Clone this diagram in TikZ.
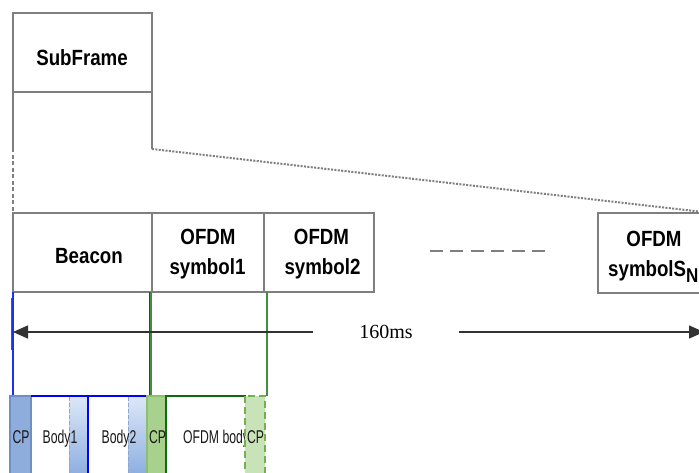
\documentclass[tikz,border=0pt]{standalone}
\usepackage{fontspec}
\setmainfont{Liberation Sans}
\newfontfamily\hdrf[FakeStretch=0.85]{Liberation Sans}
\newfontfamily\nrwf[FakeStretch=0.66]{Liberation Sans}
\newfontfamily\serf{Liberation Serif}
\usetikzlibrary{arrows.meta}
\definecolor{gl}{HTML}{7F7F7F}
\definecolor{cpblue}{HTML}{8FADDC}
\definecolor{cpblueb}{HTML}{6F8FC2}
\definecolor{blA}{HTML}{DCE7F7}
\definecolor{blB}{HTML}{87AAE0}
\definecolor{bdash}{HTML}{8CA6D0}
\definecolor{gcp}{HTML}{A9D18E}
\definecolor{gcpb}{HTML}{8CC06C}
\definecolor{gcp2}{HTML}{C9E3B8}
\definecolor{gdash}{HTML}{74B04E}
\definecolor{dkgreen}{HTML}{0F6A12}
\definecolor{thgreen}{HTML}{3F8F3F}
\definecolor{thblue}{HTML}{1F2FF0}
\tikzset{
  box/.style={draw=gl, line width=1.5pt, inner sep=0pt, outer sep=0pt, anchor=north west},
  hdr/.style={font=\hdrf\bfseries\fontsize{22}{30}\selectfont, inner sep=0pt},
  lbl/.style={font=\nrwf\fontsize{18.5}{20}\selectfont, inner sep=0pt, text=black!90},
  grey/.style={draw=gl, line width=1.5pt}
}
\begin{document}
\begin{tikzpicture}[x=1pt,y=-1pt]
\useasboundingbox (0,0) rectangle (699,472);
\clip (0,0) rectangle (699,472);
\fill[white] (0,0) rectangle (699,472);

% top subframe
\node[box, minimum width=139pt, minimum height=79pt] (sub) at (13,13) {};
\node[hdr] (subt) at (82,57.5) {SubFrame};
\coordinate (subL) at (13,148);
\coordinate (subR) at (152,149);

% frame row
\node[box, minimum width=139pt, minimum height=79pt] (beacon) at (13,213) {};
\node[box, minimum width=112pt, minimum height=79pt] (sym1) at (152,213) {};
\node[box, minimum width=110pt, minimum height=79pt] (sym2) at (264,213) {};
\node[box, minimum width=114pt, minimum height=80pt] (symN) at (598,213) {};

\node[hdr] (beat) at (89,256.5) {Beacon};
\node[hdr, anchor=base] (s1a) at (208,244) {OFDM};
\node[hdr, anchor=base] (s1b) at (207.5,274) {symbol1};
\node[hdr, anchor=base] (s2a) at (321.5,244) {OFDM};
\node[hdr, anchor=base] (s2b) at (322.5,274) {symbol2};
\node[hdr, anchor=base] (sNa) at (654,246.5) {OFDM};
\node[hdr, anchor=base west] (sNb) at (608,276) {symbolS\raisebox{-6.5pt}{\fontsize{20}{22}\selectfont N}};

\draw[grey] (sub.south west) -- (subL);
\draw[draw=gl, line width=1.3pt, dash pattern=on 4pt off 2.5pt] (subL) -- (beacon.north west);
\draw[grey] (sub.south east) -- (subR);
\draw[draw=gl, line width=2pt, dash pattern=on 2pt off 1.4pt] (subR) -- (symN.north east);

% ellipsis dashes
\coordinate (dA) at (430,251);
\coordinate (dB) at (546,251);
\draw[draw=gl, line width=2.5pt, dash pattern=on 13pt off 7.4pt] (dA) -- (dB);

% thin verticals
\draw[thblue, line width=1.5pt] (13,292) -- (13,396);
\draw[thblue, line width=1.5pt] (149.5,292) -- (149.5,396);
\draw[thgreen, line width=1.5pt] (151.2,292) -- (151.2,396);
\draw[thgreen, line width=1.5pt] (267,292) -- (267,396);
\draw[gl!70!black, line width=1.2pt] (11.8,298) -- (11.8,350);

% duration arrow
\coordinate (aL) at (13,332);
\coordinate (aR) at (704,332);
\node[inner sep=0pt, minimum width=146pt, font=\serf\fontsize{20}{22}\selectfont] (len) at (386,332) {160ms};
\draw[grey, -{Triangle[length=15pt,width=13pt]}, black!80] (len.west) -- (aL);
\draw[grey, -{Triangle[length=15pt,width=13pt]}, black!80] (len.east) -- (aR);

% bottom row
\fill[cpblue] (10,396) rectangle (31,480);
\draw[cpblueb, line width=2pt] (10,396) rectangle (31,480);
\shade[top color=blA, bottom color=blB] (69,397) rectangle (88,480);
\draw[bdash, line width=1pt, dash pattern=on 4pt off 2pt] (69,397) -- (69,480);
\shade[top color=blA, bottom color=blB] (128,397) rectangle (147,480);
\draw[bdash, line width=1pt, dash pattern=on 4pt off 2pt] (128,397) -- (128,480);
\draw[blue, line width=2.6pt] (31,396) -- (148,396);
\draw[blue, line width=2.6pt] (88,396) -- (88,480);

\fill[gcp] (147,396) rectangle (166,480);
\draw[gcpb, line width=1.5pt] (147,396) rectangle (166,480);
\node[lbl, anchor=base west] (ob) at (183,443) {OFDM body};
\draw[dkgreen, line width=2.6pt] (166,480) -- (166,396) -- (246,396);
\fill[gcp2] (245,396) rectangle (265,480);
\draw[gdash, line width=2pt, dash pattern=on 7pt off 4pt] (245,396) rectangle (265,480);

\node[lbl, anchor=base] (cp1) at (21,443) {CP};
\node[lbl, anchor=base] (b1) at (60,443) {Body1};
\node[lbl, anchor=base] (b2) at (119,443) {Body2};
\node[lbl, anchor=base] (cp2) at (157.5,443) {CP};
\node[lbl, anchor=base] (cp3) at (255.5,443) {CP};
\end{tikzpicture}
\end{document}
